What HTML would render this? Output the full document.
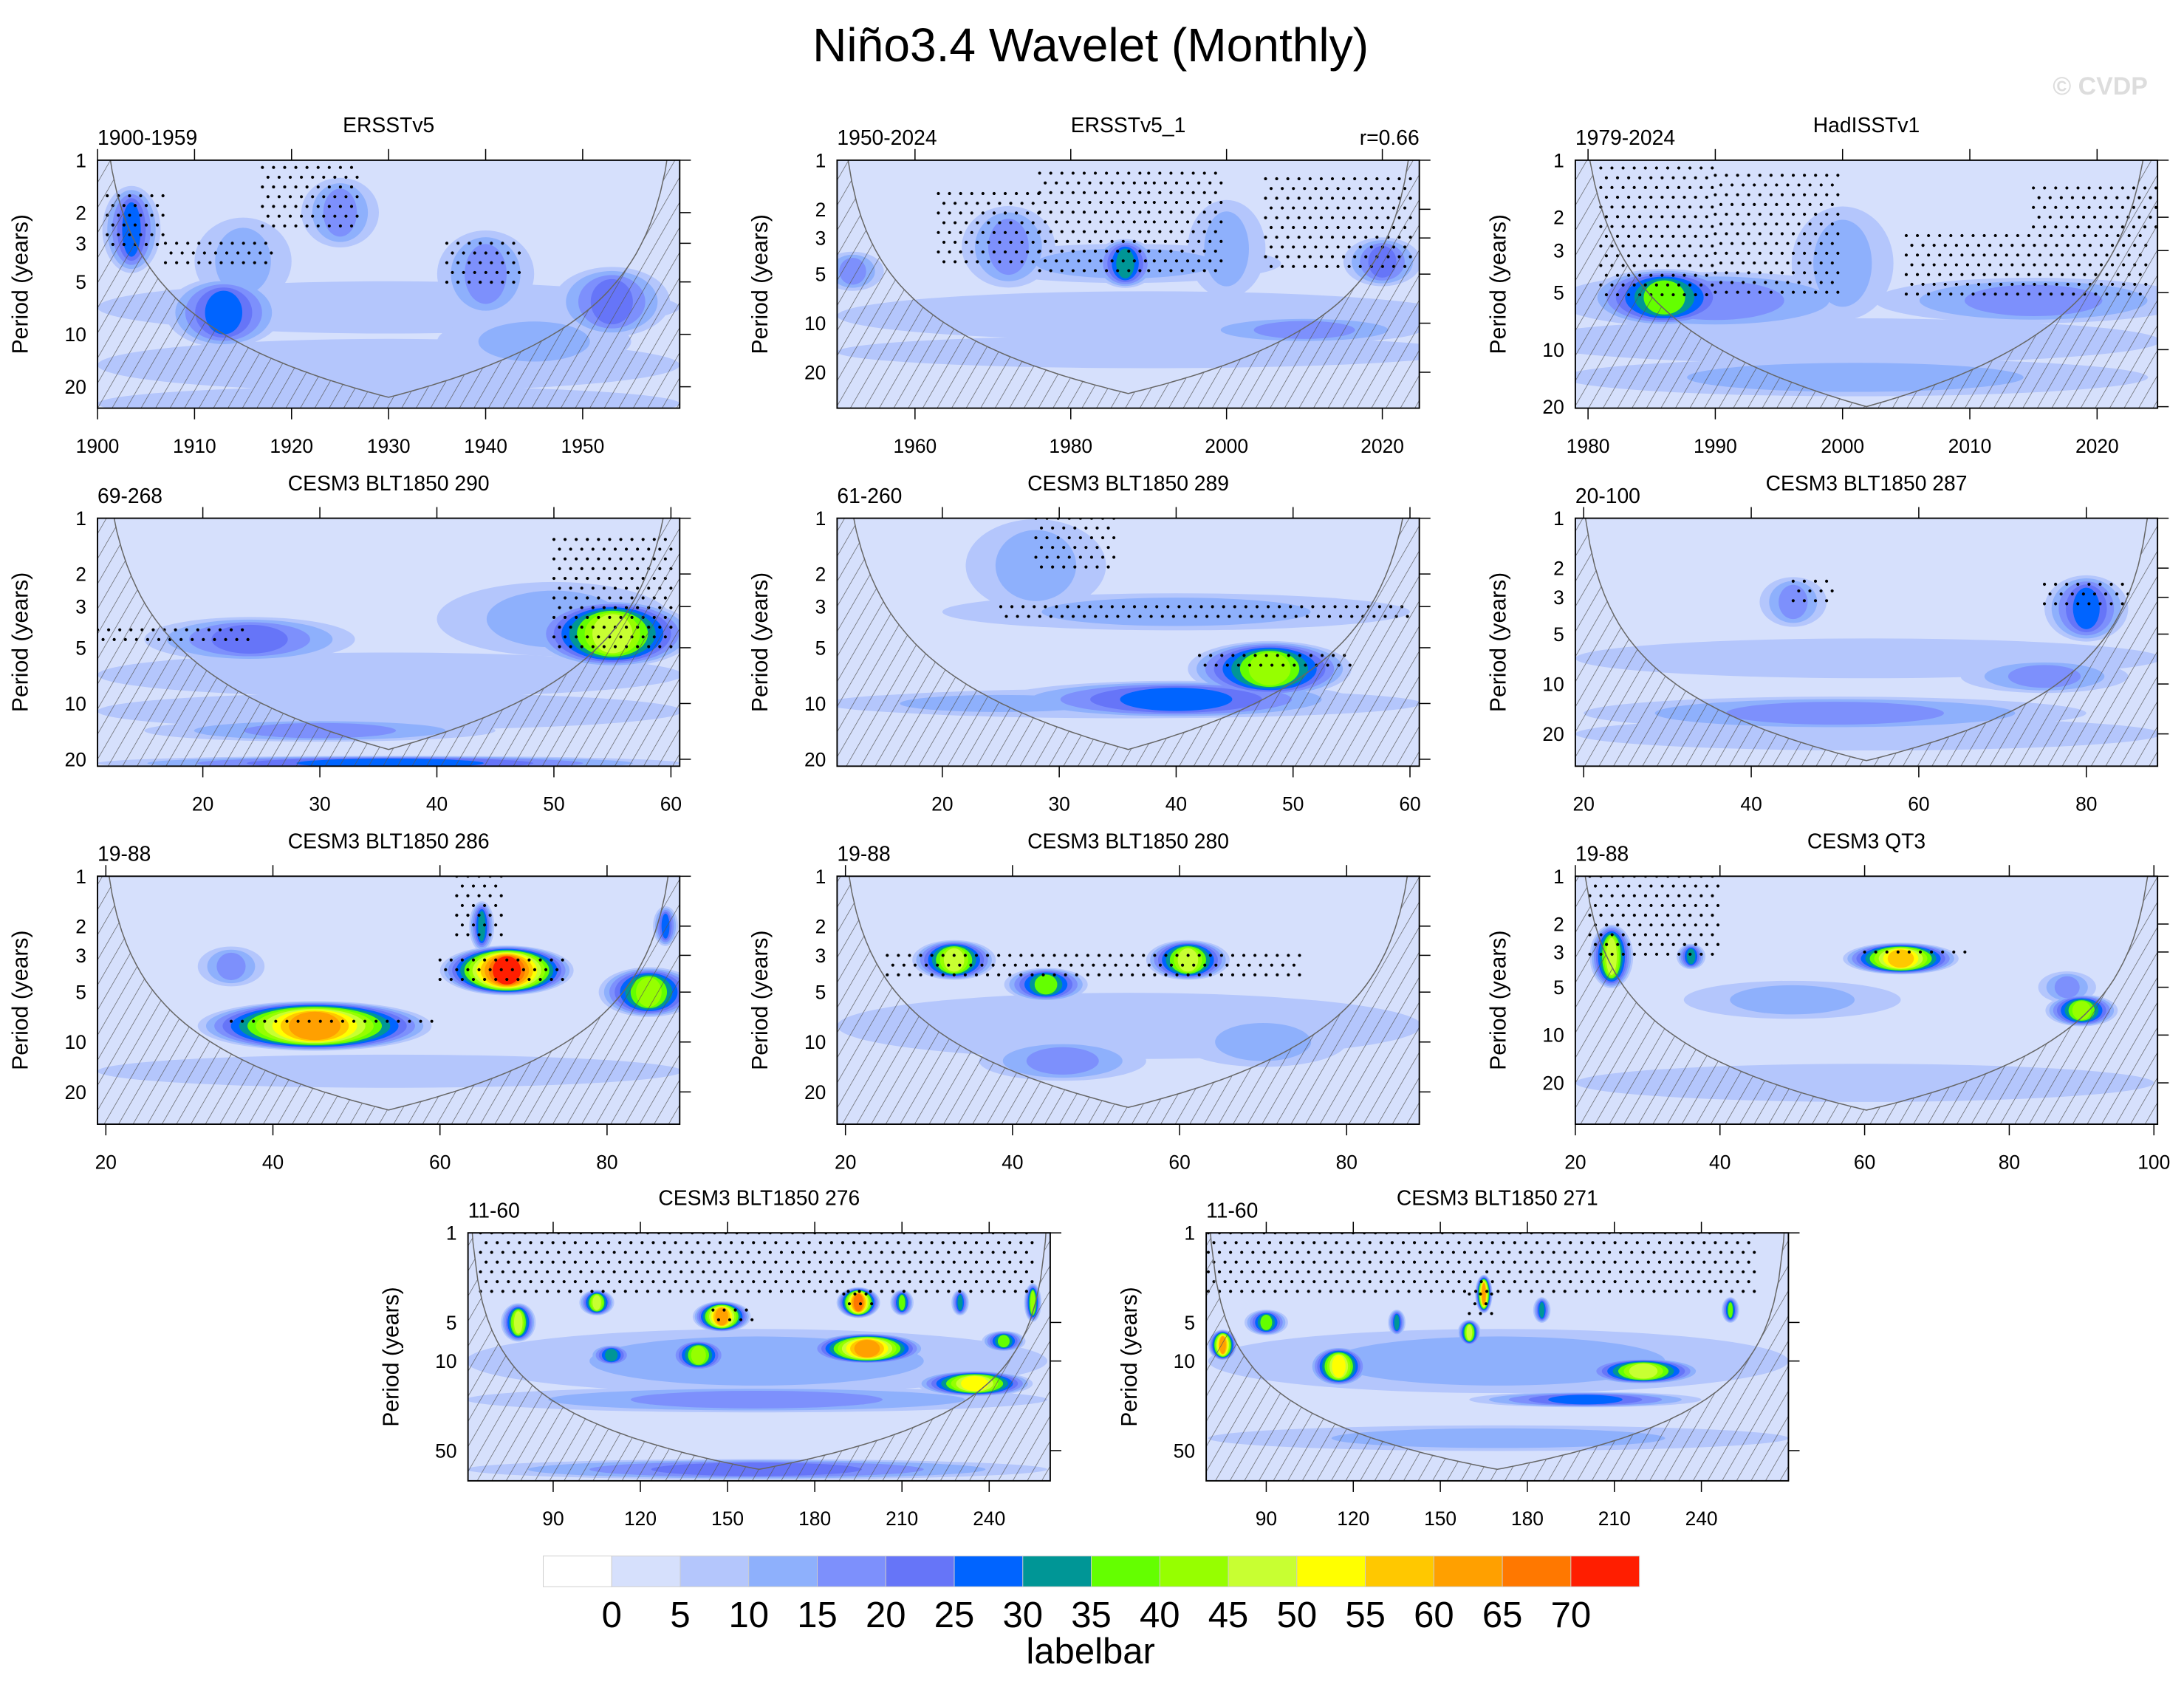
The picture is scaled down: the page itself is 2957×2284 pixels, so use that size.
<!DOCTYPE html>
<html><head><meta charset="utf-8">
<style>
html,body{margin:0;padding:0;background:#fff;}
svg{display:block;font-family:"Liberation Sans",sans-serif;}
</style></head>
<body>
<svg id="fig" width="2957" height="2284" viewBox="0 0 1568 1211" preserveAspectRatio="none" xmlns="http://www.w3.org/2000/svg">
<defs>
<pattern id="hatch" patternUnits="userSpaceOnUse" width="9" height="9" patternTransform="rotate(30)">
<line x1="0" y1="0" x2="0" y2="9" stroke="#555" stroke-width="0.7"/>
</pattern>
</defs>
<text x="783" y="44" font-size="34" text-anchor="middle">Niño3.4 Wavelet (Monthly)</text>
<text x="1542" y="68" font-size="18" font-weight="bold" fill="#ddd" text-anchor="end">© CVDP</text>
<g id="panels"></g>
<g id="colorbar"></g>
</svg>
<script>
const levelColors = ["#ffffff","#d6e0fc","#b4c6fc","#8eb0fc","#7d90fc","#6675f8","#0064ff","#009696","#64ff00","#96ff00","#c8ff32","#ffff00","#ffc800","#ffa000","#ff7800","#ff1e00"];
const colorbarLabels = ["0","5","10","15","20","25","30","35","40","45","50","55","60","65","70"];

// blob tuples: [time, period, width(time units), height(decades), level]
const blobsErsst = [[1930,7,60,0.15,2],[1930,15,60,0.15,2],[1930,25,60,0.1,2],[1903.5,2.5,6,0.25,6],[1913,7.5,12,0.2,6],[1915,3.8,10,0.25,3],[1925,2.0,8,0.2,4],[1940,4.5,10,0.25,4],[1953,6.5,12,0.2,5],[1945,11,20,0.15,3]];
const blobsErsst1 = [[1990,9,80,0.15,2],[1990,15,80,0.1,2],[1952,4.8,8,0.12,4],[1972,3.4,12,0.25,4],[1987,4.3,40,0.12,3],[1987,4.3,8,0.15,7],[2000,3.5,10,0.3,3],[2020,4.2,10,0.15,5],[2010,11,30,0.08,4]];
const blobsHad = [[2000,9,50,0.12,2],[1986,5.3,12,0.15,8],[1990,5.5,25,0.15,4],[2000,3.5,8,0.3,3],[2015,5.5,25,0.12,4],[2001,14,46,0.1,3]];
const blobs290 = [[36,7,50,0.12,2],[36,11,50,0.1,2],[24,4.5,18,0.12,5],[50,3.5,20,0.2,3],[55,4.2,14,0.18,10],[30,14,30,0.06,4],[36,21,50,0.04,6]];
const blobs289 = [[36,10,50,0.08,2],[48,6.5,14,0.15,9],[40,9.5,30,0.1,6],[40,3.2,40,0.1,3],[28,1.8,12,0.25,3],[25,10,30,0.06,3]];
const blobs287 = [[54,7,70,0.12,2],[54,20,70,0.1,2],[80,3.5,10,0.2,6],[45,3.2,8,0.15,4],[50,15,60,0.1,4],[75,9,20,0.1,4]];
const blobs286 = [[54,15,70,0.1,2],[45,8,28,0.15,13],[68,3.7,16,0.15,15],[85,5,12,0.15,9],[65,2,3,0.15,7],[87,2,3,0.12,6],[35,3.5,8,0.12,4]];
const blobs280 = [[54,8,70,0.2,2],[33,3.2,10,0.12,10],[44,4.5,10,0.1,8],[61,3.2,10,0.12,10],[46,13,20,0.12,4],[70,10,20,0.15,3]];
const blobsQt3 = [[60,20,80,0.12,2],[50,6,30,0.12,3],[25,3.2,6,0.2,10],[36,3.2,4,0.08,7],[65,3.3,16,0.1,12],[90,7,10,0.1,9],[88,5,8,0.1,4]];
const blobs276 = [[160,10,200,0.25,3],[160,20,200,0.1,4],[160,70,200,0.08,5],[78,5,12,0.15,10],[105,3.5,12,0.1,10],[148,4.5,20,0.12,13],[195,3.5,15,0.12,14],[198,8,40,0.12,13],[140,9,20,0.12,9],[110,9,15,0.08,7],[235,15,40,0.1,11],[245,7,15,0.08,8],[210,3.5,8,0.1,8],[230,3.5,6,0.1,7],[255,3.5,6,0.15,9]];
const blobs271 = [[170,10,200,0.25,3],[170,40,200,0.1,3],[75,7.5,10,0.12,13],[90,5,15,0.1,8],[115,11,20,0.15,11],[135,5,6,0.1,7],[165,3,6,0.15,13],[160,6,8,0.1,10],[220,12,40,0.1,10],[200,20,80,0.06,6],[250,4,6,0.1,8],[185,4,6,0.1,7]];

// significance stipple regions: [tStart, tEnd, periodStart, periodEnd]
const dotsErsst = [[1901,1907,1.6,3.1],[1907,1918,3,4.3],[1917,1927,1.1,2.6],[1936,1944,3,5.2]];
const dotsErsst1 = [[1963,1976,1.6,4.5],[1976,1990,1.2,5],[1990,2000,1.2,5],[2005,2024,1.3,4.8]];
const dotsHad = [[1981,1990,1.1,5.5],[1990,2000,1.2,5.5],[2005,2024,2.5,5.5],[2015,2025,1.4,2.5]];
const dots290 = [[11,24,4,5],[50,60,1.3,5]];
const dots289 = [[25,60,3,3.5],[28,35,1,2],[42,55,5.5,7]];
const dots287 = [[75,85,2.5,3.5],[45,50,2.4,3.6]];
const dots286 = [[35,60,7.5,8.5],[60,75,3.2,4.5],[62,68,1,2.5]];
const dots280 = [[25,75,3,4.5]];
const dotsQt3 = [[22,40,1,3.5],[60,75,3,3.4]];
const dots276 = [[65,255,1,3],[145,160,4,5],[190,200,3,4]];
const dots271 = [[70,260,1,3],[160,168,3,5]];

const ticks1900 = [1900,1910,1920,1930,1940,1950];
const ticks1950 = [1960,1980,2000,2020];
const ticks1979 = [1980,1990,2000,2010,2020];
const ticks20to60 = [20,30,40,50,60];
const ticks20to80 = [20,40,60,80];
const ticks20to100 = [20,40,60,80,100];
const ticks90to240 = [90,120,150,180,210,240];
const periodTicks = [1,2,3,5,10,20];
const periodTicksLong = [1,5,10,50];

const panels = [
 {name:"ersstv5",x:70,y:115,t0:1900,t1:1960,ppd:125,tx:ticks1900,ty:periodTicks,left:"1900-1959",title:"ERSSTv5",right:"",blobs:blobsErsst,dots:dotsErsst,apex:23},
 {name:"ersstv5-1",x:601,y:115,t0:1950,t1:2024.75,ppd:117,tx:ticks1950,ty:periodTicks,left:"1950-2024",title:"ERSSTv5_1",right:"r=0.66",blobs:blobsErsst1,dots:dotsErsst1,apex:27},
 {name:"hadisstv1",x:1131,y:115,t0:1979,t1:2024.75,ppd:136,tx:ticks1979,ty:periodTicks,left:"1979-2024",title:"HadISSTv1",right:"",blobs:blobsHad,dots:dotsHad,apex:20},
 {name:"blt1850-290",x:70,y:372,t0:11,t1:60.75,ppd:133,tx:ticks20to60,ty:periodTicks,left:"69-268",title:"CESM3 BLT1850 290",right:"",blobs:blobs290,dots:dots290,apex:17.7},
 {name:"blt1850-289",x:601,y:372,t0:11,t1:60.8,ppd:133,tx:ticks20to60,ty:periodTicks,left:"61-260",title:"CESM3 BLT1850 289",right:"",blobs:blobs289,dots:dots289,apex:17.7},
 {name:"blt1850-287",x:1131,y:372,t0:19,t1:88.5,ppd:119,tx:ticks20to80,ty:periodTicks,left:"20-100",title:"CESM3 BLT1850 287",right:"",blobs:blobs287,dots:dots287,apex:29},
 {name:"blt1850-286",x:70,y:629,t0:19,t1:88.7,ppd:119,tx:ticks20to80,ty:periodTicks,left:"19-88",title:"CESM3 BLT1850 286",right:"",blobs:blobs286,dots:dots286,apex:25.7},
 {name:"blt1850-280",x:601,y:629,t0:19,t1:88.7,ppd:119,tx:ticks20to80,ty:periodTicks,left:"19-88",title:"CESM3 BLT1850 280",right:"",blobs:blobs280,dots:dots280,apex:24.8},
 {name:"qt3",x:1131,y:629,t0:20,t1:100.5,ppd:114,tx:ticks20to100,ty:periodTicks,left:"19-88",title:"CESM3 QT3",right:"",blobs:blobsQt3,dots:dotsQt3,apex:29.7},
 {name:"blt1850-276",x:336,y:885,t0:60.7,t1:261,ppd:92,tx:ticks90to240,ty:periodTicksLong,left:"11-60",title:"CESM3 BLT1850 276",right:"",blobs:blobs276,dots:dots276,apex:70},
 {name:"blt1850-271",x:866,y:885,t0:69.3,t1:270,ppd:92,tx:ticks90to240,ty:periodTicksLong,left:"11-60",title:"CESM3 BLT1850 271",right:"",blobs:blobs271,dots:dots271,apex:70}
];
const W=418,H=178,NS="http://www.w3.org/2000/svg";
function mk(tag,attrs,parent){const e=document.createElementNS(NS,tag);for(const k in attrs)e.setAttribute(k,attrs[k]);if(parent)parent.appendChild(e);return e;}
const root=document.getElementById('panels');
panels.forEach((p,i)=>{
 const xs=t=>p.x+(t-p.t0)/(p.t1-p.t0)*W;
 const ys=per=>p.y+Math.log10(per)*p.ppd;
 const g=mk('g',{},root);
 
 
 const cid='clip'+i;
 const cp=mk('clipPath',{id:cid},g);mk('rect',{x:p.x,y:p.y,width:W,height:H},cp);
 const plot=mk('g',{'clip-path':'url(#'+cid+')'},g);
 const bg=mk('rect',{x:p.x,y:p.y,width:W,height:H,fill:levelColors[1]},plot);
 
 
 const ells=[];
 p.blobs.forEach(b=>{
  const [t,per,w,h,L]=b;
  for(let k=2;k<=L;k++){const f=L>2?1-(k-2)/(L-1)*0.85:1;ells.push({k,cx:xs(t),cy:ys(per),rx:w/2*f*W/(p.t1-p.t0),ry:h*p.ppd*(0.45+0.55*f)});}
 });
 ells.sort((a,b)=>a.k-b.k);
 ells.forEach(e=>{const el=mk('ellipse',{cx:e.cx,cy:e.cy,rx:e.rx,ry:e.ry,fill:levelColors[e.k]},plot);
  
  });
 // stippling
 p.dots.forEach(r=>{
  const xa=xs(r[0]),xb=xs(r[1]),ya=ys(r[2]),yb=ys(r[3]);
  let row=0;
  for(let y=ya;y<=yb;y+=7,row++){
   for(let x=xa+(row%2)*4;x<=xb;x+=8){
    const d=mk('circle',{cx:x.toFixed(1),cy:y.toFixed(1),r:1.1,fill:'#000'},plot);
    
    
   }
  }
 });
 // cone of influence
 const half=(p.t1-p.t0)/2;let pts=[];
 for(let j=0;j<=120;j++){const t=p.t0+j/120*(p.t1-p.t0);const dist=Math.min(t-p.t0,p.t1-t);const per=Math.max(0.3,p.apex*dist/half);pts.push([xs(t),ys(per)]);}
 const d='M'+pts.map(q=>q[0].toFixed(1)+','+q[1].toFixed(1)).join(' L')+' L'+(p.x+W)+','+(p.y+H+5)+' L'+p.x+','+(p.y+H+5)+'Z';
 const coi=mk('path',{d:d,fill:'url(#hatch)',stroke:'#666','stroke-width':0.8},plot);
 
 
 const frame=mk('rect',{x:p.x,y:p.y,width:W,height:H,fill:'none',stroke:'#000','stroke-width':1},g);
 
 
 p.tx.forEach(t=>{const x=xs(t);
  mk('line',{x1:x,y1:p.y+H,x2:x,y2:p.y+H+8,stroke:'#000','stroke-width':0.8},g);
  mk('line',{x1:x,y1:p.y,x2:x,y2:p.y-8,stroke:'#000','stroke-width':0.8},g);
  const tl=mk('text',{x:x,y:p.y+H+32,'font-size':14,'text-anchor':'middle'},g);tl.textContent=t;
  
  });
 p.ty.forEach(v=>{const y=ys(v);
  mk('line',{x1:p.x+W,y1:y,x2:p.x+W+8,y2:y,stroke:'#000','stroke-width':0.8},g);
  const tl=mk('text',{x:p.x-8,y:y+5,'font-size':14,'text-anchor':'end'},g);tl.textContent=v;
  
  });
 const yl=mk('text',{x:p.x-50,y:p.y+H/2,'font-size':16,'text-anchor':'middle',transform:'rotate(-90 '+(p.x-50)+' '+(p.y+H/2)+')'},g);yl.textContent='Period (years)';
 
 
 const lt=mk('text',{x:p.x,y:p.y-11,'font-size':15},g);lt.textContent=p.left;
 
 
 const tt=mk('text',{x:p.x+W/2,y:p.y-20,'font-size':15,'text-anchor':'middle'},g);tt.textContent=p.title;
 
 
 if(p.right){const rt=mk('text',{x:p.x+W,y:p.y-11,'font-size':15,'text-anchor':'end'},g);rt.textContent=p.right;
  
  }
});
const cb=document.getElementById('colorbar');
const bx=390,bw=787/16;
levelColors.forEach((c,i)=>{const r=mk('rect',{x:bx+i*bw,y:1117,width:bw,height:22,fill:c,stroke:'#ccc','stroke-width':0.5},cb);
 
 });
colorbarLabels.forEach((l,i)=>{const t=mk('text',{x:bx+(i+1)*bw,y:1168,'font-size':26,'text-anchor':'middle'},cb);t.textContent=l;
 
 });
const lb=mk('text',{x:783,y:1194,'font-size':26,'text-anchor':'middle'},cb);lb.textContent='labelbar';


</script>
</body></html>
